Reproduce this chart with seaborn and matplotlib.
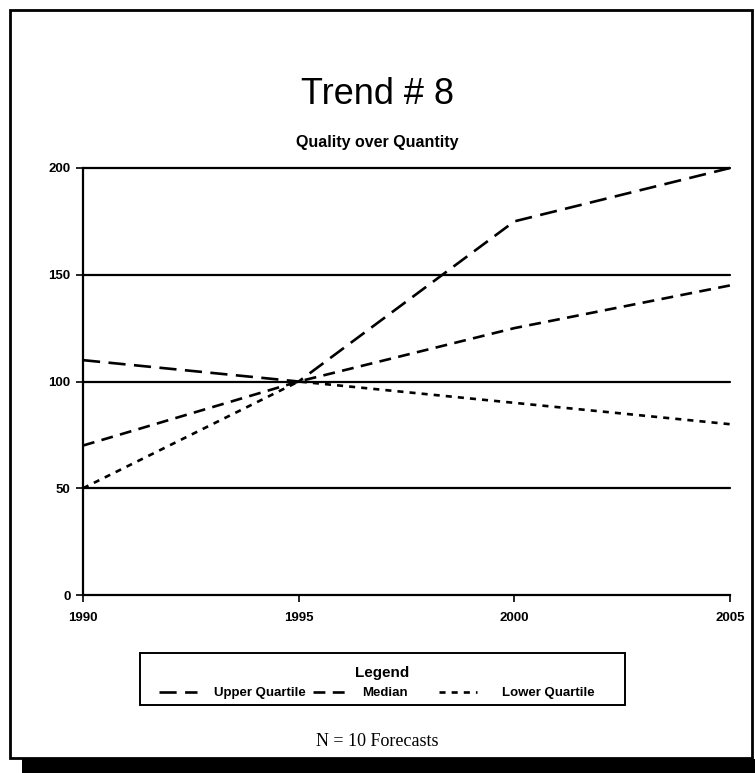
import matplotlib
matplotlib.use("Agg")
import matplotlib.pyplot as plt
from matplotlib.patches import Rectangle
from matplotlib.lines import Line2D
import seaborn as sns
import pandas as pd

# Forecast values by year for each quartile series
years = [1990, 1995, 2000, 2005]
upper_quartile = [110, 100, 175, 200]
median = [70, 100, 125, 145]
lower_quartile = [50, 100, 90, 80]
series_names = ["Upper Quartile", "Median", "Lower Quartile"]
y_ticks = [0, 50, 100, 150, 200]
x_ticks = [1990, 1995, 2000, 2005]

df = pd.DataFrame({
    "Year": years * 3,
    "Value": upper_quartile + median + lower_quartile,
    "Series": [s for s in series_names for _ in years],
})

sns.set_theme(style="white")
plt.rcParams["font.family"] = ["Liberation Sans Narrow", "Liberation Sans", "DejaVu Sans"]
plt.rcParams["text.color"] = "black"
plt.rcParams["xtick.color"] = "black"
plt.rcParams["ytick.color"] = "black"
plt.rcParams["axes.labelcolor"] = "black"

W, H = 755, 773
fig = plt.figure(figsize=(W / 100, H / 100), dpi=100)
fig.patch.set_facecolor("white")

def fx(px):
    return px / W

def fy(py):
    return 1 - py / H

ax = fig.add_axes([fx(83), fy(595), fx(730) - fx(83), fy(168) - fy(595)])

dashes = {
    "Upper Quartile": (6.5, 3.2),
    "Median": (4.5, 2.8),
    "Lower Quartile": (2.3, 2.3),
}
sns.lineplot(data=df, x="Year", y="Value", style="Series", dashes=dashes,
             color="black", linewidth=1.9, ax=ax, legend=False,
             markers=False)
for line in ax.lines:
    line.set_clip_on(False)

# Horizontal reference lines
for yv in y_ticks[1:]:
    ax.axhline(yv, color="black", linewidth=1.6, zorder=1, clip_on=False)

ax.set_xlim(1990, 2005)
ax.set_ylim(0, 200)
ax.set_xticks(x_ticks)
ax.set_yticks(y_ticks)
ax.set_xticklabels([str(x) for x in x_ticks], fontsize=9.5, fontweight="bold")
ax.set_yticklabels([str(y) for y in y_ticks], fontsize=9.5, fontweight="bold")
ax.tick_params(axis="x", pad=7)
ax.tick_params(axis="y", pad=4)
ax.tick_params(axis="both", direction="out", length=5, width=1.2, color="black",
               left=True, bottom=True, labelcolor="black")
ax.set_xlabel("")
ax.set_ylabel("")
for side in ["top", "right"]:
    ax.spines[side].set_visible(False)
for side in ["left", "bottom"]:
    ax.spines[side].set_color("black")
    ax.spines[side].set_linewidth(1.6)
ax.set_facecolor("white")

# Titles
fig.text(0.5, fy(95), "Trend # 8", ha="center", va="center", fontsize=26,
         color="black")
fig.text(0.5, fy(143), "Quality over Quantity", ha="center", va="center",
         fontsize=11.5, fontweight="bold", color="black")
fig.text(0.5, fy(741), "N = 10 Forecasts", ha="center", va="center",
         fontsize=13, color="black", family=["Liberation Serif", "DejaVu Serif"])

# Legend box with its heading and one row of entries
box_l, box_r, box_t, box_b = 140, 625, 653, 705
fig.patches.append(Rectangle((fx(box_l), fy(box_b)), fx(box_r) - fx(box_l),
                             fy(box_t) - fy(box_b), transform=fig.transFigure,
                             fill=False, edgecolor="black", linewidth=1.4))
fig.text(fx((box_l + box_r) / 2), fy(673), "Legend", ha="center", va="center",
         fontsize=11, fontweight="bold", color="black")

entry_left = [159, 313, 439]
entry_textpad = [1.3, 0.8, 1.9]
for name, left, pad in zip(series_names, entry_left, entry_textpad):
    handle = Line2D([0], [0], color="black", linewidth=1.9, dashes=dashes[name])
    fig.legend([handle], [name], loc="center left",
               bbox_to_anchor=(fx(left), fy(693)), frameon=False,
               prop={"weight": "bold", "size": 9.5},
               handlelength=2.9, handletextpad=pad, borderaxespad=0,
               borderpad=0)

# Page frame and dark lower band
fig.patches.append(Rectangle((fx(10), fy(758)), fx(752) - fx(10), fy(10) - fy(758),
                             transform=fig.transFigure, fill=False,
                             edgecolor="black", linewidth=2.0))
fig.patches.append(Rectangle((fx(22), 0), 1 - fx(22), fy(759),
                             transform=fig.transFigure, facecolor="black",
                             edgecolor="none"))

fig.savefig("out.png", dpi=100, facecolor="white")
